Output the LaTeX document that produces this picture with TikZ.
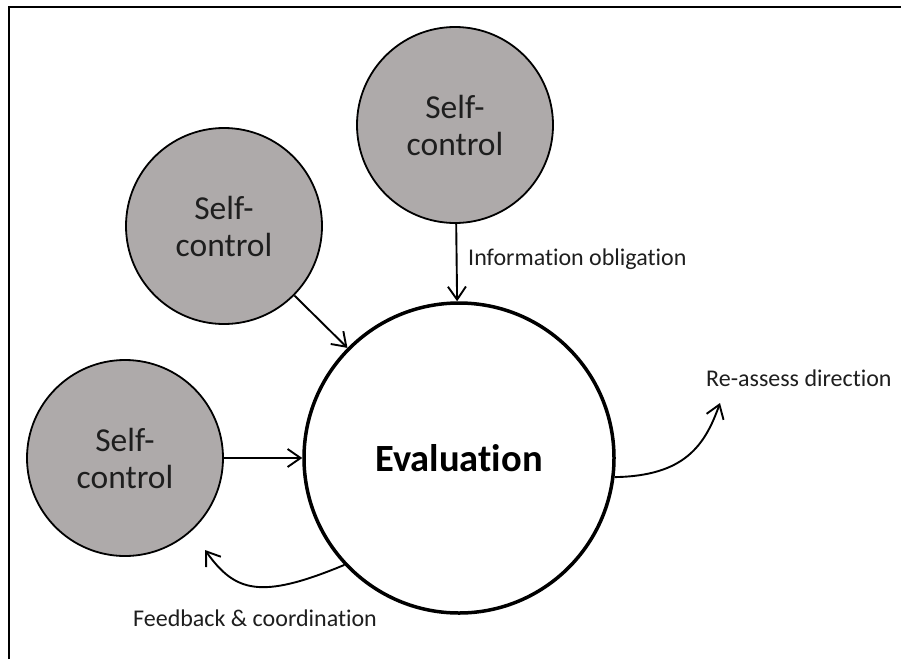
\documentclass[tikz,border=0pt]{standalone}
\usepackage{fontspec}
\setmainfont{Carlito}[Ligatures={NoCommon,NoContextual}]
\usetikzlibrary{arrows.meta}
\definecolor{circgray}{RGB}{174,170,170}
\definecolor{txt}{RGB}{30,30,30}
\tikzset{
  selfc/.style={circle, draw=black, line width=1.8pt, fill=circgray, minimum size=196pt, inner sep=0pt, align=center, font=\fontsize{33.5}{37}\selectfont, text=txt},
  evalc/.style={circle, draw=black, line width=3.5pt, fill=white, minimum size=310pt, inner sep=0pt, font=\fontsize{38.5}{44}\selectfont\bfseries},
  conn/.style={line width=1.9pt, -{Straight Barb[length=13pt,width=18pt,line width=1.9pt]}},
  lbl/.style={anchor=west, font=\fontsize{24}{28}\selectfont, text=txt, inner sep=0pt}
}
\begin{document}
\begin{tikzpicture}[x=1pt,y=-1pt]
\useasboundingbox (0,0) rectangle (901,659);
\draw[line width=2.5pt] (9,659) -- (9,7) -- (901,7);
\node[selfc] (t) at (455,125) {Self-\\control};
\node[selfc] (m) at (224,226) {Self-\\control};
\node[selfc] (l) at (125,458) {Self-\\control};
\node[evalc] (e) at (459,458) {Evaluation};
\draw[conn] (t) -- (e);
\draw[conn] (m) -- (e);
\draw[conn] (l) -- (e);
\coordinate (retip) at (720,403);
\coordinate (fbtip) at (205,550);
\draw[conn] (e.-7) .. controls (685,476) and (705,445) .. (retip);
\draw[conn] (e.223) .. controls (260,600) and (235,592) .. (fbtip);
\node[lbl] (info) at (468,259) {Information obligation};
\node[lbl] (re) at (706,378) {Re-assess direction};
\node[lbl] (fb) at (133,618) {Feedback \& coordination};
\end{tikzpicture}
\end{document}
